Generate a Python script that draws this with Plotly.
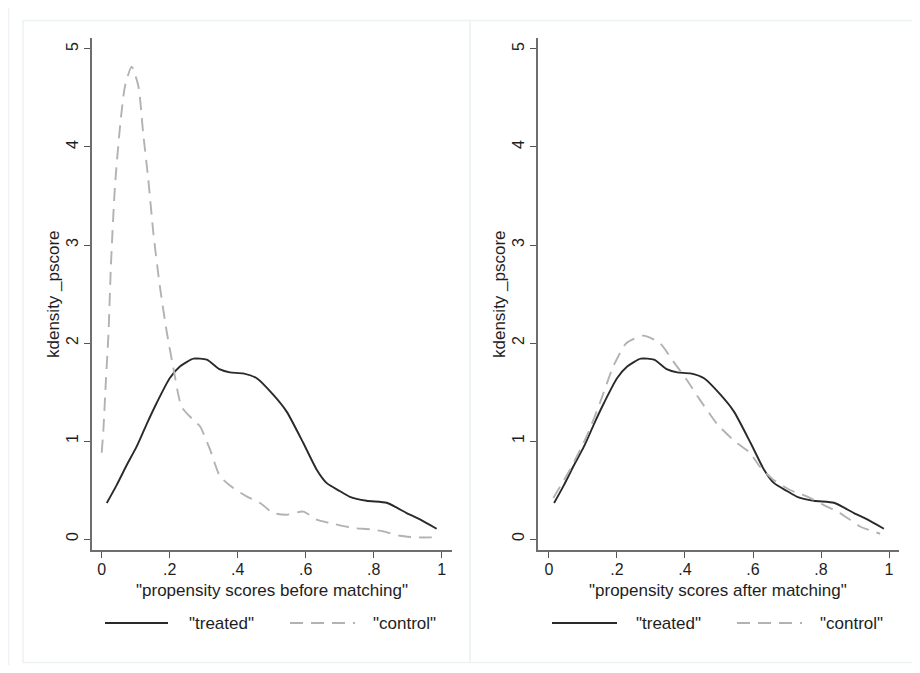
import plotly.graph_objects as go

# ---------------- data ----------------
treated_x = [0.015, 0.044, 0.073, 0.103, 0.132, 0.162, 0.2, 0.23, 0.27, 0.309, 0.348, 0.377,
             0.416, 0.456, 0.505, 0.544, 0.593, 0.632, 0.662, 0.70, 0.73, 0.779, 0.838, 0.868,
             0.897, 0.936, 0.985]
treated_y = [0.367, 0.55, 0.75, 0.945, 1.17, 1.39, 1.64, 1.76, 1.84, 1.83, 1.73, 1.70,
             1.69, 1.64, 1.47, 1.30, 0.98, 0.71, 0.57, 0.49, 0.43, 0.39, 0.37, 0.32,
             0.265, 0.20, 0.105]

control_before_x = [0.0, 0.005, 0.0126, 0.02, 0.027, 0.039, 0.054, 0.0685, 0.088, 0.108, 0.122,
                    0.137, 0.152, 0.171, 0.191, 0.21, 0.235, 0.265, 0.289, 0.319, 0.348, 0.387,
                    0.426, 0.466, 0.505, 0.544, 0.593, 0.632, 0.681, 0.74, 0.789, 0.828, 0.877,
                    0.926, 0.975]
control_before_y = [0.88, 1.115, 1.63, 2.10, 2.78, 3.60, 4.21, 4.62, 4.82, 4.62, 4.14,
                    3.67, 3.12, 2.58, 2.12, 1.76, 1.35, 1.23, 1.15, 0.91, 0.64, 0.52,
                    0.435, 0.367, 0.265, 0.248, 0.28, 0.197, 0.156, 0.112, 0.10, 0.078, 0.034,
                    0.017, 0.017]

control_after_x = [0.0127, 0.062, 0.111, 0.15, 0.189, 0.228, 0.277, 0.326, 0.366, 0.405, 0.444,
                   0.493, 0.542, 0.591, 0.62, 0.66, 0.709, 0.758, 0.806, 0.856, 0.915, 0.974]
control_after_y = [0.418, 0.71, 1.05, 1.39, 1.76, 2.0, 2.075, 2.0, 1.81, 1.625, 1.42,
                   1.18, 1.01, 0.88, 0.74, 0.605, 0.50, 0.435, 0.35, 0.265, 0.128, 0.054]

x_tick_vals = [0, 0.2, 0.4, 0.6, 0.8, 1]
x_tick_text = ["0", ".2", ".4", ".6", ".8", "1"]
y_tick_vals = [0, 1, 2, 3, 4, 5]
y_tick_text = ["0", "1", "2", "3", "4", "5"]

x_titles = ['"propensity scores before matching"', '"propensity scores after matching"']
y_title = "kdensity _pscore"
legend_labels = ['"treated"', '"control"']

# ---------------- styling / layout ----------------
# The page body has an 8px margin, so the figure is drawn at (8, 8) in the window.
OFF = 8
W, H = 920 - 2 * OFF, 673 - 2 * OFF
FONT = "Liberation Sans, Arial, sans-serif"
TXT = "#1e1e1e"
TREATED_COLOR = "#2a2a2a"
CONTROL_COLOR = "#b2b2b2"
DASH = "13px,8px"
LW = 1.9


def px_x(p):
    """window pixel x -> paper fraction"""
    return (p - OFF) / W


def px_y(p):
    """window pixel y -> paper fraction"""
    return 1 - (p - OFF) / H


# plot regions in window pixels: (left, right, top, bottom)
panels = [(92, 452, 38, 550), (537.7, 899, 38, 550)]
x_ranges = [[-0.0285, 1.0303], [-0.0332, 1.0294]]
y_range = [-0.112, 5.112]

fig = go.Figure()

fig.add_trace(go.Scatter(x=treated_x, y=treated_y, mode="lines",
                         line=dict(color=TREATED_COLOR, width=LW, shape="spline", smoothing=0.6),
                         xaxis="x", yaxis="y", name=legend_labels[0], showlegend=False))
fig.add_trace(go.Scatter(x=control_before_x, y=control_before_y, mode="lines",
                         line=dict(color=CONTROL_COLOR, width=LW, dash=DASH, shape="spline", smoothing=0.6),
                         xaxis="x", yaxis="y", name=legend_labels[1], showlegend=False))
fig.add_trace(go.Scatter(x=treated_x, y=treated_y, mode="lines",
                         line=dict(color=TREATED_COLOR, width=LW, shape="spline", smoothing=0.6),
                         xaxis="x2", yaxis="y2", name=legend_labels[0], showlegend=False))
fig.add_trace(go.Scatter(x=control_after_x, y=control_after_y, mode="lines",
                         line=dict(color=CONTROL_COLOR, width=LW, dash=DASH, shape="spline", smoothing=0.6),
                         xaxis="x2", yaxis="y2", name=legend_labels[1], showlegend=False))

axis_common = dict(showgrid=False, zeroline=False, showline=True, linecolor="#6e6e6e", linewidth=1.6,
                   ticks="outside", ticklen=6, tickwidth=1.3, tickcolor="#555555",
                   tickfont=dict(family=FONT, size=16, color=TXT))

layout = dict(width=W, height=H, margin=dict(l=0, r=0, t=0, b=0),
              paper_bgcolor="white", plot_bgcolor="white", showlegend=False)

for i, (l, r, t, b) in enumerate(panels):
    sfx = "" if i == 0 else str(i + 1)
    layout["xaxis" + sfx] = dict(axis_common, domain=[px_x(l), px_x(r)], range=x_ranges[i],
                                 tickvals=x_tick_vals, ticktext=x_tick_text,
                                 ticklabelstandoff=-2,
                                 anchor="y" + sfx)
    layout["yaxis" + sfx] = dict(axis_common, domain=[px_y(b), px_y(t)], range=y_range,
                                 tickvals=y_tick_vals, ticktext=y_tick_text, tickangle=-90,
                                 anchor="x" + sfx)

fig.update_layout(**layout)

shapes = []
annotations = []
# frames
shapes.append(dict(type="rect", xref="paper", yref="paper", x0=px_x(8.5), x1=px_x(940), y0=px_y(690), y1=px_y(5.5),
                   line=dict(color="#eef2f6", width=1.5), fillcolor="rgba(0,0,0,0)", layer="below"))
for (x0, x1) in [(23, 470), (470, 917)]:
    shapes.append(dict(type="rect", xref="paper", yref="paper", x0=px_x(x0), x1=px_x(x1), y0=px_y(662.5), y1=px_y(20.5),
                       line=dict(color="#edf2f4", width=1.5), fillcolor="rgba(0,0,0,0)", layer="below"))

legend_pos = [
    # (solid x0, x1, text center x, dashed x0, x1, text center x)
    (105, 168, 221, 290, 355, 404),
    (552, 617, 668, 737, 802, 851.5),
]
for i, (l, r, t, b) in enumerate(panels):
    annotations.append(dict(text=x_titles[i], xref="paper", yref="paper", x=px_x((l + r) / 2), y=px_y(590),
                            showarrow=False, xanchor="center", yanchor="middle",
                            font=dict(family=FONT, size=17, color=TXT)))
    annotations.append(dict(text=y_title, xref="paper", yref="paper", x=px_x(53 if i == 0 else 499),
                            y=px_y((t + b) / 2),
                            showarrow=False, xanchor="center", yanchor="middle", textangle=-90,
                            font=dict(family=FONT, size=17, color=TXT)))
    sx0, sx1, stx, dx0, dx1, dtx = legend_pos[i]
    ly = px_y(623)
    shapes.append(dict(type="line", xref="paper", yref="paper", x0=px_x(sx0), x1=px_x(sx1), y0=ly, y1=ly,
                       line=dict(color=TREATED_COLOR, width=LW)))
    shapes.append(dict(type="line", xref="paper", yref="paper", x0=px_x(dx0), x1=px_x(dx1), y0=ly, y1=ly,
                       line=dict(color=CONTROL_COLOR, width=LW, dash=DASH)))
    annotations.append(dict(text=legend_labels[0], xref="paper", yref="paper", x=px_x(stx), y=ly,
                            showarrow=False, xanchor="center", yanchor="middle",
                            font=dict(family=FONT, size=17, color=TXT)))
    annotations.append(dict(text=legend_labels[1], xref="paper", yref="paper", x=px_x(dtx), y=ly,
                            showarrow=False, xanchor="center", yanchor="middle",
                            font=dict(family=FONT, size=17, color=TXT)))

fig.update_layout(shapes=shapes, annotations=annotations)

fig.write_html("out.html")
